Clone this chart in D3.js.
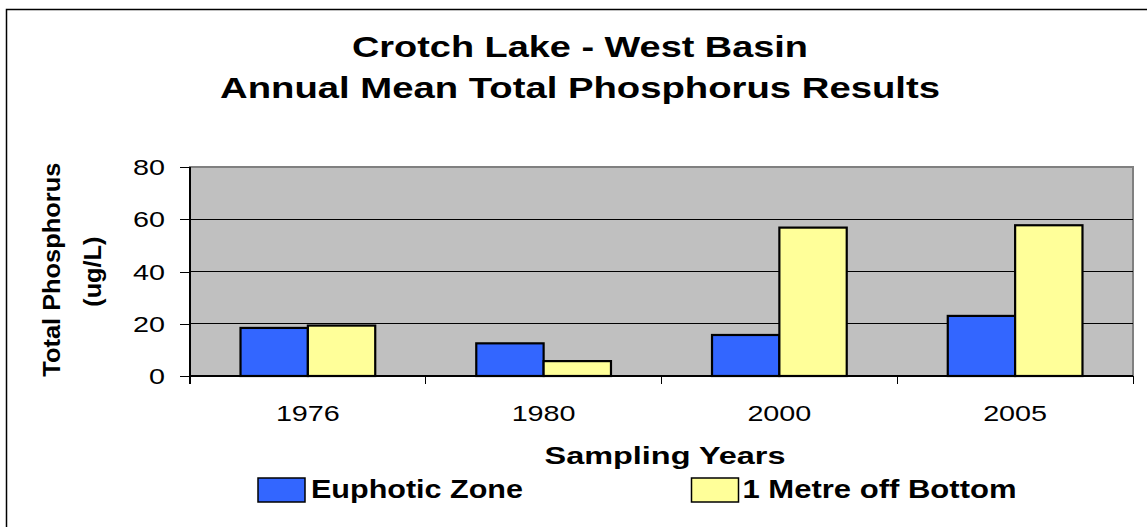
<!DOCTYPE html>
<html>
  <head>
    <meta http-equiv="Content-Type" content="text/html;charset=utf-8"/>
    <style type="text/css">

body {
  margin: 0;
  background: #fff;
  overflow: hidden;
}

svg text {
  font-family: "Liberation Sans", Arial, sans-serif;
  fill: #000;
}

.grid line {
  stroke: #000;
  stroke-width: 1px;
  shape-rendering: crispEdges;
}

.bars rect {
  stroke: #000;
  stroke-width: 2.2px;
}

.axis path, .axis line {
  fill: none;
  stroke: #000;
  shape-rendering: crispEdges;
}

    </style>
  </head>
  <body>
    <svg></svg>

    <script type="text/javascript" src="https://cdn.jsdelivr.net/npm/d3@7/dist/d3.min.js"></script>

    <script type="text/javascript">

var years = ["1976", "1980", "2000", "2005"];
var seriesNames = ["Euphotic Zone", "1 Metre off Bottom"];
var euphotic = [18.4, 12.5, 15.7, 23.0];
var bottom = [19.3, 5.7, 56.8, 57.7];
var yTicks = [0, 20, 40, 60, 80];

var colors = ["#3366FF", "#FFFF99"];

var W = 1147, H = 527;
var plot = {left: 190, top: 167, right: 1133, bottom: 376};

var svg = d3.select("svg")
    .attr("width", W)
    .attr("height", H);

// outer chart border (runs off the right and bottom edge)
svg.append("rect")
    .attr("x", 6.5).attr("y", 9.5)
    .attr("width", 1160).attr("height", 540)
    .attr("fill", "#fff")
    .attr("stroke", "#000")
    .attr("stroke-width", 1.5);

var x0 = d3.scaleBand()
    .domain(years)
    .range([plot.left, plot.right])
    .paddingInner(1.5 / 3.5)
    .paddingOuter(0.75 / 3.5);

var x1 = d3.scaleBand()
    .domain(seriesNames)
    .range([0, x0.bandwidth()]);

var y = d3.scaleLinear()
    .domain([0, 80])
    .range([plot.bottom, plot.top]);

var color = d3.scaleOrdinal()
    .domain(seriesNames)
    .range(colors);

// text helper: fonts in the picture run wider than Arial, so force widths
function label(g, txt, px, py, size, weight, anchor, len, rot) {
  var t = g.append("text")
      .attr("transform", "translate(" + px + "," + py + ")" + (rot ? " rotate(" + rot + ")" : ""))
      .attr("text-anchor", anchor)
      .style("font-size", size + "px")
      .style("font-weight", weight)
      .text(txt);
  if (len) t.attr("textLength", len).attr("lengthAdjust", "spacingAndGlyphs");
  return t;
}

// plot background
svg.append("rect")
    .attr("x", plot.left).attr("y", plot.top)
    .attr("width", plot.right - plot.left)
    .attr("height", plot.bottom - plot.top)
    .attr("fill", "#C0C0C0")
    .attr("stroke", "#808080")
    .attr("stroke-width", 2);

svg.append("g")
    .attr("class", "grid")
  .selectAll("line")
    .data(yTicks.filter(d => d > 0 && d < 80))
  .enter().append("line")
    .attr("x1", plot.left).attr("x2", plot.right)
    .attr("y1", d => y(d)).attr("y2", d => y(d));

// bars
var rows = years.map((yr, i) => ({year: yr, vals: [
  {s: seriesNames[0], v: euphotic[i]},
  {s: seriesNames[1], v: bottom[i]}
]}));

svg.append("g")
    .attr("class", "bars")
  .selectAll("g")
    .data(rows)
  .enter().append("g")
    .attr("transform", d => "translate(" + x0(d.year) + ",0)")
  .selectAll("rect")
    .data(d => d.vals)
  .enter().append("rect")
    .attr("x", d => x1(d.s))
    .attr("y", d => y(d.v))
    .attr("width", x1.bandwidth())
    .attr("height", d => y(0) - y(d.v))
    .attr("fill", d => color(d.s));

// y axis
var yAxis = svg.append("g")
    .attr("class", "axis")
    .attr("transform", "translate(" + plot.left + ",0)")
    .call(d3.axisLeft(y).tickValues(yTicks).tickSize(10).tickFormat(""));
yAxis.select(".domain").attr("d", "M0," + plot.top + "V" + (plot.bottom + 8)).attr("stroke-width", 1.5);

yTicks.forEach(function (t) {
  label(svg, String(t), 165, y(t) + 8, 22, "normal", "end", String(t).length * 16);
});

// x axis, ticks sit between the categories
var bounds = years.map(d => x0(d) - x0.step() * x0.paddingOuter()).concat([plot.right]);
var xAxis = svg.append("g")
    .attr("class", "axis");
xAxis.append("path")
    .attr("d", "M" + plot.left + "," + plot.bottom + "H" + plot.right)
    .attr("stroke-width", 1.5);
xAxis.selectAll("line")
    .data(bounds)
  .enter().append("line")
    .attr("x1", d => d).attr("x2", d => d)
    .attr("y1", plot.bottom).attr("y2", plot.bottom + 8);

years.forEach(function (yr) {
  label(svg, yr, x0(yr) + x0.bandwidth() / 2, 420.5, 22, "normal", "middle", 64);
});

// titles
label(svg, "Crotch Lake - West Basin", 580, 57, 30, "bold", "middle", 456);
label(svg, "Annual Mean Total Phosphorus Results", 580, 98, 30, "bold", "middle", 720);
label(svg, "Sampling Years", 665, 463.5, 23, "bold", "middle", 241);
label(svg, "Total Phosphorus", 60, 269.7, 24, "bold", "middle", 214, -90);
label(svg, "(ug/L)", 100.5, 271.7, 24, "bold", "middle", 70, -90);

// legend
var legendX = [258, 691.5];
var legendLen = [212, 274];
var legend = svg.append("g")
    .attr("class", "legend")
  .selectAll("g")
    .data(seriesNames)
  .enter().append("g")
    .attr("transform", (d, i) => "translate(" + legendX[i] + ",478)");

legend.append("rect")
    .attr("width", 47).attr("height", 24)
    .attr("fill", d => color(d))
    .attr("stroke", "#000")
    .attr("stroke-width", 1.5);

legend.each(function (d, i) {
  label(d3.select(this), d, i ? 51 : 53, 19.5, 25, "bold", "start", legendLen[i]);
});

    </script>
  </body>
</html>
